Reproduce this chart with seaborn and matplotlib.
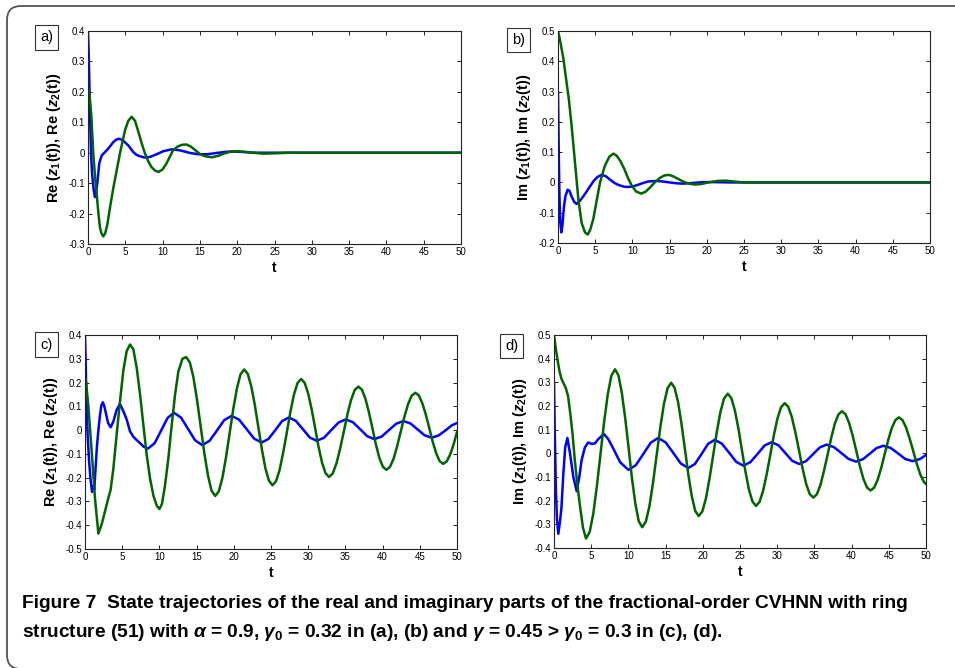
import matplotlib
matplotlib.use("Agg")
import matplotlib.pyplot as plt
from matplotlib.patches import FancyBboxPatch
from matplotlib.ticker import FuncFormatter, MultipleLocator
import seaborn as sns

# ---- (a) real parts, gamma0 = 0.32 ----
A_T1 = [0, 0.1, 0.25, 0.4, 0.55, 0.75, 0.93, 1.1, 1.25, 1.5,
        1.83, 2.28, 2.7, 3.4, 3.8, 4.2, 4.7, 5.4, 6.07, 6.5,
        7.0, 7.6, 8.3, 9.2, 10.1, 11.2, 12.3, 13.7, 14.8, 16.0,
        17.2, 18.5, 19.7, 21.0, 22.5, 25, 30, 35, 40, 45, 50]
A_RE1 = [0.4, 0.32, 0.15, 0.0, -0.07, -0.12, -0.146, -0.125, -0.1, -0.036,
         -0.009, 0.002, 0.013, 0.035, 0.043, 0.046, 0.04, 0.024, 0.002, -0.007,
         -0.012, -0.016, -0.014, -0.005, 0.005, 0.011, 0.008, -0.001, -0.005, -0.005,
         -0.001, 0.003, 0.004, 0.002, 0.0, 0, 0, 0, 0, 0, 0]
A_T2 = [0, 0.2, 0.45, 0.7, 0.95, 1.16, 1.4, 1.6, 1.8, 2.05,
        2.3, 2.6, 2.95, 3.4, 3.8, 4.3, 4.95, 5.4, 5.85, 6.3,
        6.7, 7.15, 7.6, 8.05, 8.5, 9.0, 9.45, 10.0, 10.5, 11.0,
        11.4, 12.0, 12.6, 13.2, 13.8, 14.4, 15.0, 15.6, 16.6, 17.5,
        18.3, 19.2, 20.0, 21.0, 22.0, 23.5, 25.0, 27.0, 30.0, 35.0,
        40, 45, 50]
A_RE2 = [0.21, 0.19, 0.12, 0.0, -0.08, -0.135, -0.2, -0.245, -0.265, -0.275,
         -0.265, -0.235, -0.18, -0.115, -0.064, 0.0, 0.073, 0.105, 0.118, 0.105,
         0.073, 0.035, 0.0, -0.027, -0.047, -0.059, -0.063, -0.055, -0.036, -0.012,
         0.008, 0.02, 0.026, 0.027, 0.02, 0.008, -0.004, -0.011, -0.015, -0.01,
         -0.002, 0.004, 0.005, 0.003, 0.0, -0.003, -0.002, 0.0, 0.0, 0.0,
         0, 0, 0]

# ---- (b) imaginary parts, gamma0 = 0.32 ----
B_T1 = [0, 0.1, 0.2, 0.3, 0.45, 0.6, 0.8, 1.0, 1.3, 1.55,
        1.85, 2.2, 2.5, 2.9, 3.4, 3.9, 4.3, 4.8, 5.3, 5.85,
        6.4, 7.0, 7.6, 8.1, 8.7, 9.2, 9.9, 10.5, 11.3, 12.1,
        13.2, 14.1, 15.0, 16.0, 16.8, 18.0, 19.5, 21.0, 23.0, 25.0,
        30, 35, 40, 45, 50]
B_IM1 = [0.3, 0.1, -0.05, -0.13, -0.165, -0.14, -0.08, -0.045, -0.024, -0.028,
         -0.048, -0.065, -0.071, -0.062, -0.046, -0.028, -0.013, 0.005, 0.018, 0.025,
         0.021, 0.009, -0.002, -0.008, -0.013, -0.015, -0.014, -0.01, -0.003, 0.003,
         0.005, 0.003, 0.0, -0.003, -0.004, -0.002, 0.001, 0.001, 0, 0,
         0, 0, 0, 0, 0]
B_T2 = [0, 0.27, 0.72, 1.17, 1.48, 1.84, 2.29, 2.74, 3.18, 3.63,
        4.0, 4.35, 4.75, 5.2, 5.65, 6.3, 6.9, 7.45, 7.9, 8.4,
        8.9, 9.4, 9.9, 10.5, 11.2, 11.8, 12.4, 13.0, 13.7, 14.3,
        14.9, 15.5, 16.2, 16.9, 17.6, 18.4, 19.3, 20.4, 21.5, 22.5,
        23.6, 25, 30, 35, 40, 45, 50]
B_IM2 = [0.5, 0.47, 0.41, 0.327, 0.27, 0.184, 0.064, -0.057, -0.134, -0.165,
         -0.172, -0.155, -0.12, -0.06, 0.0, 0.055, 0.085, 0.095, 0.088, 0.07,
         0.045, 0.015, -0.01, -0.03, -0.037, -0.03, -0.016, 0.0, 0.015, 0.023,
         0.025, 0.02, 0.011, 0.002, -0.004, -0.007, -0.005, 0.001, 0.005, 0.006,
         0.003, 0, 0, 0, 0, 0, 0]

# ---- (c) real parts, gamma = 0.45 ----
C_T1 = [0, 0.08, 0.2, 0.35, 0.55, 0.75, 0.95, 1.1, 1.25, 1.4,
        1.6, 1.8, 2.0, 2.2, 2.4, 2.6, 2.85, 3.1, 3.45, 3.8,
        4.25, 4.7, 5.15, 5.6, 6.05, 6.5, 6.95, 7.4, 7.9, 8.45,
        9.36, 10.23, 11.09, 11.95, 12.9, 13.85, 14.8, 15.75, 16.74, 17.73,
        18.71, 19.7, 20.71, 21.73, 22.74, 23.75, 24.66, 25.58, 26.49, 27.4,
        28.34, 29.28, 30.21, 31.15, 32.13, 33.1, 34.08, 35.05, 36.01, 36.98,
        37.94, 38.9, 39.88, 40.85, 41.83, 42.8, 43.75, 44.7, 45.65, 46.6,
        47.55, 48.5, 49.3, 50.0]
C_RE1 = [0.4, 0.3, 0.12, -0.02, -0.13, -0.21, -0.26, -0.235, -0.25, -0.17,
         -0.07, 0.0, 0.06, 0.105, 0.117, 0.1, 0.065, 0.03, 0.012, 0.035,
         0.085, 0.11, 0.08, 0.045, -0.005, -0.028, -0.042, -0.055, -0.07, -0.078,
         -0.055, -0.002, 0.051, 0.073, 0.053, 0.005, -0.043, -0.063, -0.045, -0.002,
         0.042, 0.06, 0.044, 0.004, -0.036, -0.052, -0.037, 0.0, 0.038, 0.053,
         0.039, 0.004, -0.031, -0.045, -0.032, 0.0, 0.032, 0.045, 0.033, 0.004,
         -0.026, -0.038, -0.027, 0.0, 0.027, 0.038, 0.028, 0.003, -0.022, -0.032,
         -0.022, 0.0, 0.02, 0.03]
C_T2 = [0, 0.15, 0.45, 0.9, 1.35, 1.8, 2.25, 2.7, 3.1, 3.45,
        3.8, 4.25, 4.7, 5.15, 5.6, 6.05, 6.5, 6.95, 7.4, 7.85,
        8.3, 8.75, 9.2, 9.65, 10.0, 10.35, 10.75, 11.2, 11.65, 12.1,
        12.55, 13.1, 13.6, 14.09, 14.58, 15.06, 15.55, 16.04, 16.53, 17.01,
        17.5, 17.99, 18.48, 18.96, 19.45, 19.94, 20.43, 20.91, 21.4, 21.88,
        22.35, 22.83, 23.3, 23.78, 24.25, 24.73, 25.2, 25.68, 26.16, 26.64,
        27.13, 27.61, 28.09, 28.57, 29.05, 29.52, 29.99, 30.46, 30.93, 31.39,
        31.86, 32.33, 32.8, 33.29, 33.79, 34.28, 34.78, 35.27, 35.76, 36.26,
        36.75, 37.22, 37.69, 38.16, 38.63, 39.09, 39.56, 40.03, 40.5, 40.99,
        41.48, 41.96, 42.45, 42.94, 43.43, 43.91, 44.4, 44.87, 45.34, 45.81,
        46.28, 46.74, 47.21, 47.68, 48.15, 48.63, 49.12, 49.6, 50.0]
C_RE2 = [0.22, 0.2, 0.1, -0.09, -0.29, -0.435, -0.395, -0.34, -0.29, -0.25,
         -0.165, -0.02, 0.12, 0.25, 0.332, 0.36, 0.34, 0.262, 0.15, 0.02,
         -0.106, -0.205, -0.276, -0.318, -0.332, -0.31, -0.233, -0.12, 0.02, 0.148,
         0.247, 0.3, 0.307, 0.285, 0.221, 0.127, 0.015, -0.097, -0.191, -0.255,
         -0.277, -0.257, -0.199, -0.113, -0.011, 0.091, 0.177, 0.235, 0.255, 0.236,
         0.184, 0.105, 0.012, -0.082, -0.161, -0.213, -0.232, -0.215, -0.167, -0.094,
         -0.009, 0.077, 0.15, 0.198, 0.215, 0.199, 0.155, 0.088, 0.009, -0.07,
         -0.137, -0.181, -0.197, -0.183, -0.141, -0.08, -0.007, 0.066, 0.127, 0.169,
         0.183, 0.17, 0.132, 0.075, 0.008, -0.059, -0.116, -0.154, -0.167, -0.155,
         -0.12, -0.067, -0.005, 0.057, 0.11, 0.145, 0.157, 0.146, 0.113, 0.065,
         0.008, -0.05, -0.098, -0.131, -0.142, -0.131, -0.1, -0.054, -0.008]

# ---- (d) imaginary parts, gamma = 0.45 ----
D_T1 = [0, 0.1, 0.25, 0.4, 0.58, 0.8, 1.0, 1.25, 1.5, 1.8,
        2.15, 2.6, 3.05, 3.4, 3.7, 4.15, 4.6, 5.05, 5.5, 5.95,
        6.7, 7.3, 8.0, 8.9, 10.0, 11.0, 12.0, 13.0, 14.0, 15.01,
        16.03, 17.04, 18.05, 18.94, 19.83, 20.71, 21.6, 22.56, 23.53, 24.49,
        25.45, 26.4, 27.35, 28.3, 29.25, 30.18, 31.1, 32.03, 32.95, 33.88,
        34.8, 35.73, 36.65, 37.64, 38.63, 39.61, 40.6, 41.51, 42.43, 43.34,
        44.25, 45.24, 46.23, 47.21, 48.2, 49.2, 50.0]
D_IM1 = [0.3, 0.1, -0.15, -0.28, -0.34, -0.29, -0.23, -0.09, 0.025, 0.065,
         0.0, -0.1, -0.16, -0.1, -0.03, 0.025, 0.046, 0.04, 0.042, 0.06,
         0.082, 0.06, 0.018, -0.038, -0.07, -0.05, -0.003, 0.045, 0.065, 0.046,
         0.002, -0.043, -0.062, -0.045, -0.003, 0.04, 0.057, 0.041, 0.003, -0.036,
         -0.052, -0.037, -0.003, 0.033, 0.047, 0.034, 0.001, -0.032, -0.045, -0.033,
         -0.004, 0.025, 0.037, 0.026, 0.001, -0.024, -0.035, -0.025, -0.002, 0.022,
         0.032, 0.023, 0.0, -0.024, -0.033, -0.024, -0.007]
D_T2 = [0, 0.25, 0.5, 0.75, 1.0, 1.3, 1.6, 1.9, 2.2, 2.5,
        2.8, 3.1, 3.5, 3.9, 4.3, 4.79, 5.28, 5.76, 6.25, 6.74,
        7.23, 7.71, 8.2, 8.66, 9.11, 9.57, 10.03, 10.48, 10.94, 11.39,
        11.85, 12.34, 12.83, 13.31, 13.8, 14.29, 14.78, 15.26, 15.75, 16.21,
        16.68, 17.14, 17.6, 18.06, 18.53, 18.99, 19.45, 19.94, 20.43, 20.91,
        21.4, 21.89, 22.38, 22.86, 23.35, 23.83, 24.3, 24.78, 25.25, 25.73,
        26.2, 26.68, 27.15, 27.63, 28.11, 28.59, 29.08, 29.56, 30.04, 30.52,
        31.0, 31.48, 31.96, 32.44, 32.93, 33.41, 33.89, 34.37, 34.85, 35.33,
        35.81, 36.29, 36.78, 37.26, 37.74, 38.22, 38.7, 39.18, 39.66, 40.14,
        40.63, 41.11, 41.59, 42.07, 42.55, 43.03, 43.5, 43.98, 44.45, 44.93,
        45.4, 45.88, 46.35, 46.83, 47.31, 47.79, 48.28, 48.76, 49.24, 49.72,
        50.0]
D_IM2 = [0.5, 0.44, 0.39, 0.345, 0.315, 0.295, 0.275, 0.24, 0.165, 0.08,
         -0.03, -0.12, -0.225, -0.315, -0.36, -0.333, -0.255, -0.139, -0.003, 0.134,
         0.25, 0.328, 0.355, 0.33, 0.257, 0.149, 0.022, -0.106, -0.214, -0.287,
         -0.312, -0.289, -0.223, -0.124, -0.007, 0.11, 0.209, 0.275, 0.298, 0.277,
         0.216, 0.124, 0.017, -0.091, -0.183, -0.244, -0.265, -0.245, -0.189, -0.105,
         -0.007, 0.092, 0.176, 0.232, 0.252, 0.234, 0.183, 0.106, 0.015, -0.076,
         -0.153, -0.204, -0.222, -0.205, -0.158, -0.088, -0.005, 0.078, 0.148, 0.195,
         0.212, 0.197, 0.154, 0.089, 0.013, -0.064, -0.129, -0.172, -0.187, -0.173,
         -0.134, -0.074, -0.005, 0.065, 0.125, 0.164, 0.178, 0.165, 0.129, 0.075,
         0.011, -0.054, -0.108, -0.144, -0.157, -0.145, -0.112, -0.062, -0.003, 0.057,
         0.107, 0.14, 0.152, 0.141, 0.11, 0.064, 0.01, -0.044, -0.09, -0.121,
         -0.13]

X_TICKS = list(range(0, 51, 5))
Y_LIMITS = {"a": (-0.3, 0.4), "b": (-0.2, 0.5), "c": (-0.5, 0.4), "d": (-0.4, 0.5)}
Y_LABELS = {
    "a": r"Re ($\mathit{z}_1$(t)), Re ($\mathit{z}_2$(t))",
    "b": r"Im ($\mathit{z}_1$(t)), Im ($\mathit{z}_2$(t))",
    "c": r"Re ($\mathit{z}_1$(t)), Re ($\mathit{z}_2$(t))",
    "d": r"Im ($\mathit{z}_1$(t)), Im ($\mathit{z}_2$(t))",
}
CAPTION_1 = ("Figure 7  State trajectories of the real and imaginary parts of the "
             "fractional-order CVHNN with ring")
CAPTION_2 = (r"structure (51) with $\alpha$ = 0.9, $\gamma_0$ = 0.32 in (a), (b) and "
             r"$\gamma$ = 0.45 > $\gamma_0$ = 0.3 in (c), (d).")

BLUE = "#0000ff"
GREEN = "#006400"

sns.set_theme(style="ticks")
plt.rcParams["font.family"] = ["Liberation Sans", "DejaVu Sans"]
plt.rcParams["text.color"] = "black"
plt.rcParams["axes.labelcolor"] = "black"
plt.rcParams["axes.unicode_minus"] = False
plt.rcParams["mathtext.fontset"] = "custom"
plt.rcParams["mathtext.rm"] = "Liberation Sans:bold"
plt.rcParams["mathtext.it"] = "Liberation Sans:italic:bold"
plt.rcParams["mathtext.bf"] = "Liberation Sans:bold"

W, H = 955, 668
fig = plt.figure(figsize=(W / 100, H / 100), dpi=100)
fig.patch.set_facecolor("white")


def px_axes(left, top, right, bottom):
    return fig.add_axes([left / W, 1 - bottom / H, (right - left) / W, (bottom - top) / H])


panels = {
    "a": (px_axes(88, 31, 461, 244), A_T1, A_RE1, A_T2, A_RE2, (36, 25, 57, 50)),
    "b": (px_axes(558, 31, 930, 243), B_T1, B_IM1, B_T2, B_IM2, (504, 27, 533, 53)),
    "c": (px_axes(85, 335, 457, 549), C_T1, C_RE1, C_T2, C_RE2, (35, 335, 58, 354)),
    "d": (px_axes(554, 335, 926, 548), D_T1, D_IM1, D_T2, D_IM2, (498, 335, 525, 357)),
}

fmt = FuncFormatter(lambda v, _: "0" if abs(v) < 1e-9 else f"{v:.1f}")

for key, (ax, t1, v1, t2, v2, box) in panels.items():
    sns.lineplot(x=t1, y=v1, ax=ax, color=BLUE, linewidth=1.8,
                 estimator=None, sort=False, legend=False)
    sns.lineplot(x=t2, y=v2, ax=ax, color=GREEN, linewidth=1.8,
                 estimator=None, sort=False, legend=False)
    ax.set_xlim(0, 50)
    ax.set_ylim(*Y_LIMITS[key])
    ax.set_xticks(X_TICKS)
    ax.yaxis.set_major_locator(MultipleLocator(0.1))
    ax.yaxis.set_major_formatter(fmt)
    ax.tick_params(direction="in", top=True, right=True, length=3, width=0.6,
                   labelsize=7, pad=2, colors="black")
    for s in ax.spines.values():
        s.set_color("#222222")
        s.set_linewidth(0.8)
    ax.set_facecolor("white")
    ax.set_xlabel("t", fontsize=10, fontweight="bold", labelpad=3)
    ax.set_ylabel(Y_LABELS[key], fontsize=10.5, fontweight="bold", labelpad=4)
    # panel tag in a framed box
    x0, y0, x1, y1 = box
    fig.text((x0 + x1) / 2 / W, 1 - (y0 + y1) / 2 / H, f"{key})", fontsize=10.5,
             ha="center", va="center",
             bbox=dict(boxstyle="square,pad=0.35", fc="white", ec="#333333", lw=0.8))

# rounded frame around the figure
frame = FancyBboxPatch((0.07, -0.01), 9.9, 6.62 + 0.01,
                       boxstyle="round,pad=0,rounding_size=0.14",
                       transform=fig.dpi_scale_trans, fill=False,
                       ec="#555555", lw=1.3, clip_on=False)
fig.patches.append(frame)

cap_font = ["Liberation Sans", "DejaVu Sans"]
fig.text(22 / W, 1 - 608 / H, CAPTION_1, fontsize=13.8, fontweight="bold",
         family=cap_font, color="black", ha="left", va="baseline")
fig.text(22 / W, 1 - 637 / H, CAPTION_2, fontsize=13.8, fontweight="bold",
         family=cap_font, color="black", ha="left", va="baseline")

fig.savefig("out.png", dpi=100, facecolor="white")
